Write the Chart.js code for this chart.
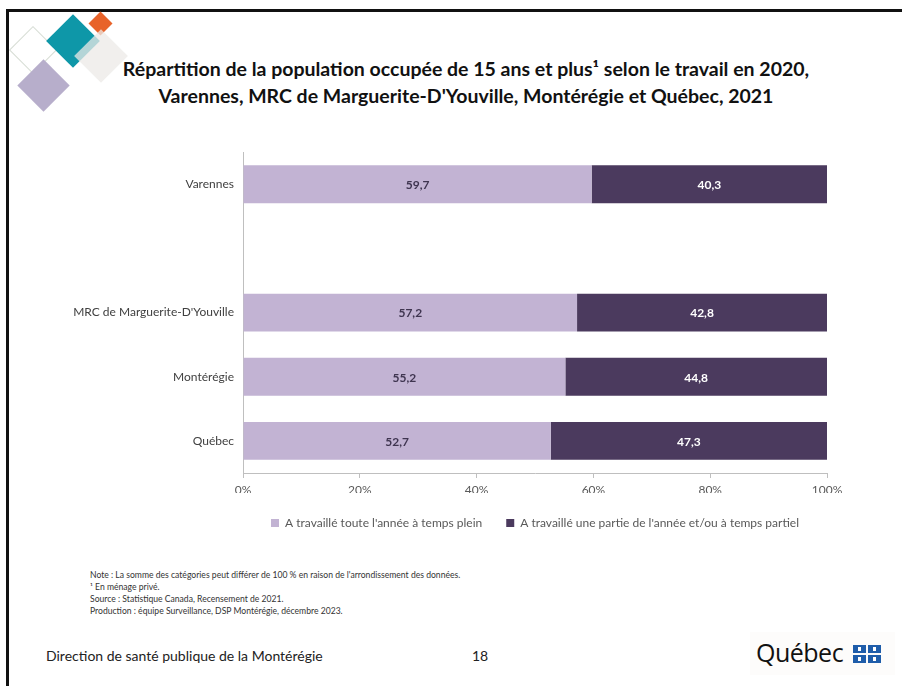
<!DOCTYPE html>
<html lang="fr">
<head>
<meta charset="utf-8">
<script src="https://cdn.jsdelivr.net/npm/chart.js@4"></script>
<style>
  html, body { margin: 0; padding: 0; }
  body { width: 902px; height: 686px; overflow: hidden; background: #fff; position: relative; font-family: Lato, "Open Sans", sans-serif; color: #262626; }
  .frame-top { position: absolute; left: 6px; top: 9px; width: 900px; height: 3px; background: #111; }
  .frame-left { position: absolute; left: 6px; top: 9px; width: 3px; height: 680px; background: #111; }
  .dia { position: absolute; transform: rotate(45deg); box-sizing: border-box; }
  #title { position: absolute; left: 30px; width: 872px; top: 55px; text-align: center; font-weight: bold; font-size: 19.5px; line-height: 27px; color: #111; }
  #notes { position: absolute; left: 90px; top: 569px; font-size: 8.6px; line-height: 12px; color: #333; }
  #footer { position: absolute; left: 46px; top: 647px; font-size: 14px; line-height: 18px; color: #222; }
  #page { position: absolute; left: 472px; top: 647px; font-size: 14px; line-height: 18px; color: #222; }
  #qc { position: absolute; left: 750px; top: 632px; width: 145px; height: 43px; background: #fdfcfb; }
  #qc span { position: absolute; left: 6px; top: 5px; font-size: 25px; line-height: 30px; color: #111; font-family: "Open Sans", sans-serif; letter-spacing: -0.5px; }
  .flag { position: absolute; width: 13px; height: 8px; background: #1f5daa; }
  .flag::after { content: ""; position: absolute; left: 5px; top: 2px; width: 3px; height: 4px; background: #fff; }
  #chartBox { position: absolute; left: 0; top: 136px; width: 902px; height: 404px; }
</style>
</head>
<body>
<div class="frame-top"></div>
<div class="frame-left"></div>

<!-- logo -->
<div class="dia" style="left:16px;top:33px;width:34px;height:34px;border:1.5px solid #d5dcd3;"></div>
<div class="dia" style="left:54px;top:22px;width:38px;height:38px;background:#0e97a8;"></div>
<div class="dia" style="left:92px;top:15px;width:17px;height:17px;background:#e8632a;"></div>
<div class="dia" style="left:82px;top:37px;width:38px;height:38px;background:rgba(236,233,231,0.75);"></div>
<div class="dia" style="left:25px;top:67px;width:37px;height:37px;background:#b7aecb;"></div>

<div id="title">Répartition de la population occupée de 15 ans et plus¹ selon le travail en 2020,<br>Varennes, MRC de Marguerite-D'Youville, Montérégie et Québec, 2021</div>

<div id="chartBox"><canvas id="myChart"></canvas></div>

<div id="notes">
Note : La somme des catégories peut différer de 100 % en raison de l'arrondissement des données.<br>
¹ En ménage privé.<br>
Source : Statistique Canada, Recensement de 2021.<br>
Production : équipe Surveillance, DSP Montérégie, décembre 2023.
</div>

<div id="footer">Direction de santé publique de la Montérégie</div>
<div id="page">18</div>
<div id="qc"><span>Québec</span>
  <div class="flag" style="left:103px;top:13px;"></div>
  <div class="flag" style="left:118px;top:13px;"></div>
  <div class="flag" style="left:103px;top:23px;"></div>
  <div class="flag" style="left:118px;top:23px;"></div>
</div>

<script>
const categories = ['Varennes', '', "MRC de Marguerite-D'Youville", 'Montérégie', 'Québec'];
const fullYear = [59.7, null, 57.2, 55.2, 52.7];
const partYear = [40.3, null, 42.8, 44.8, 47.3];
const seriesNames = ["A travaillé toute l'année à temps plein", "A travaillé une partie de l'année et/ou à temps partiel"];
const xTicks = [0, 20, 40, 60, 80, 100];

const lightPurple = '#c2b3d3';
const darkPurple = '#4b3a5e';
const labelColors = ['#3f3550', '#ffffff'];

const ctx = document.getElementById('myChart');

// write the values in the middle of each segment
const valueLabels = {
  id: 'valueLabels',
  afterDatasetsDraw(chart) {
    const c = chart.ctx;
    c.save();
    c.font = 'bold 12px Lato';
    c.textAlign = 'center';
    c.textBaseline = 'middle';
    chart.data.datasets.forEach((ds, i) => {
      chart.getDatasetMeta(i).data.forEach((bar, j) => {
        const v = ds.data[j];
        if (v == null) return;
        const p = bar.getCenterPoint();
        c.fillStyle = labelColors[i];
        c.fillText(v.toFixed(1).replace('.', ','), p.x, p.y + 1);
      });
    });
    c.restore();
  }
};

if (ctx) {
  new Chart(ctx, {
    type: 'bar',
    data: {
      labels: categories,
      datasets: [
        { label: seriesNames[0], data: fullYear, backgroundColor: lightPurple },
        { label: seriesNames[1], data: partYear, backgroundColor: darkPurple }
      ]
    },
    options: {
      indexAxis: 'y',
      responsive: true,
      maintainAspectRatio: false,
      animation: false,
      datasets: { bar: { categoryPercentage: 1, barPercentage: 0.59 } },
      // the y labels already push the top down by ~16px
      layout: { padding: { top: 4, right: 75, bottom: 1, left: 0 } },
      scales: {
        x: {
          stacked: true,
          min: 0,
          max: 100,
          afterBuildTicks: (axis) => { axis.ticks = xTicks.map(v => ({ value: v })); },
          afterFit: (axis) => { axis.height = 20; },
          grid: { drawOnChartArea: false, drawTicks: true, tickLength: 5, color: '#bfbfbf' },
          border: { color: '#bfbfbf' },
          ticks: { color: '#595959', font: { family: 'Lato', size: 12 }, padding: 5, callback: v => v + '%' }
        },
        y: {
          stacked: true,
          afterFit: (axis) => { axis.width = 243; },
          grid: { display: false, drawTicks: false },
          border: { display: true, color: '#bfbfbf' },
          ticks: { color: '#404040', font: { family: 'Lato', size: 12 }, padding: 9 }
        }
      },
      plugins: {
        legend: {
          position: 'bottom',
          fullSize: false,
          labels: { boxWidth: 8, boxHeight: 8, color: '#595959', font: { family: 'Lato', size: 12 }, padding: 24 }
        },
        tooltip: { enabled: false }
      }
    },
    plugins: [valueLabels]
  });
} else {
  console.log('Canvas not found');
}
</script>
</body>
</html>
